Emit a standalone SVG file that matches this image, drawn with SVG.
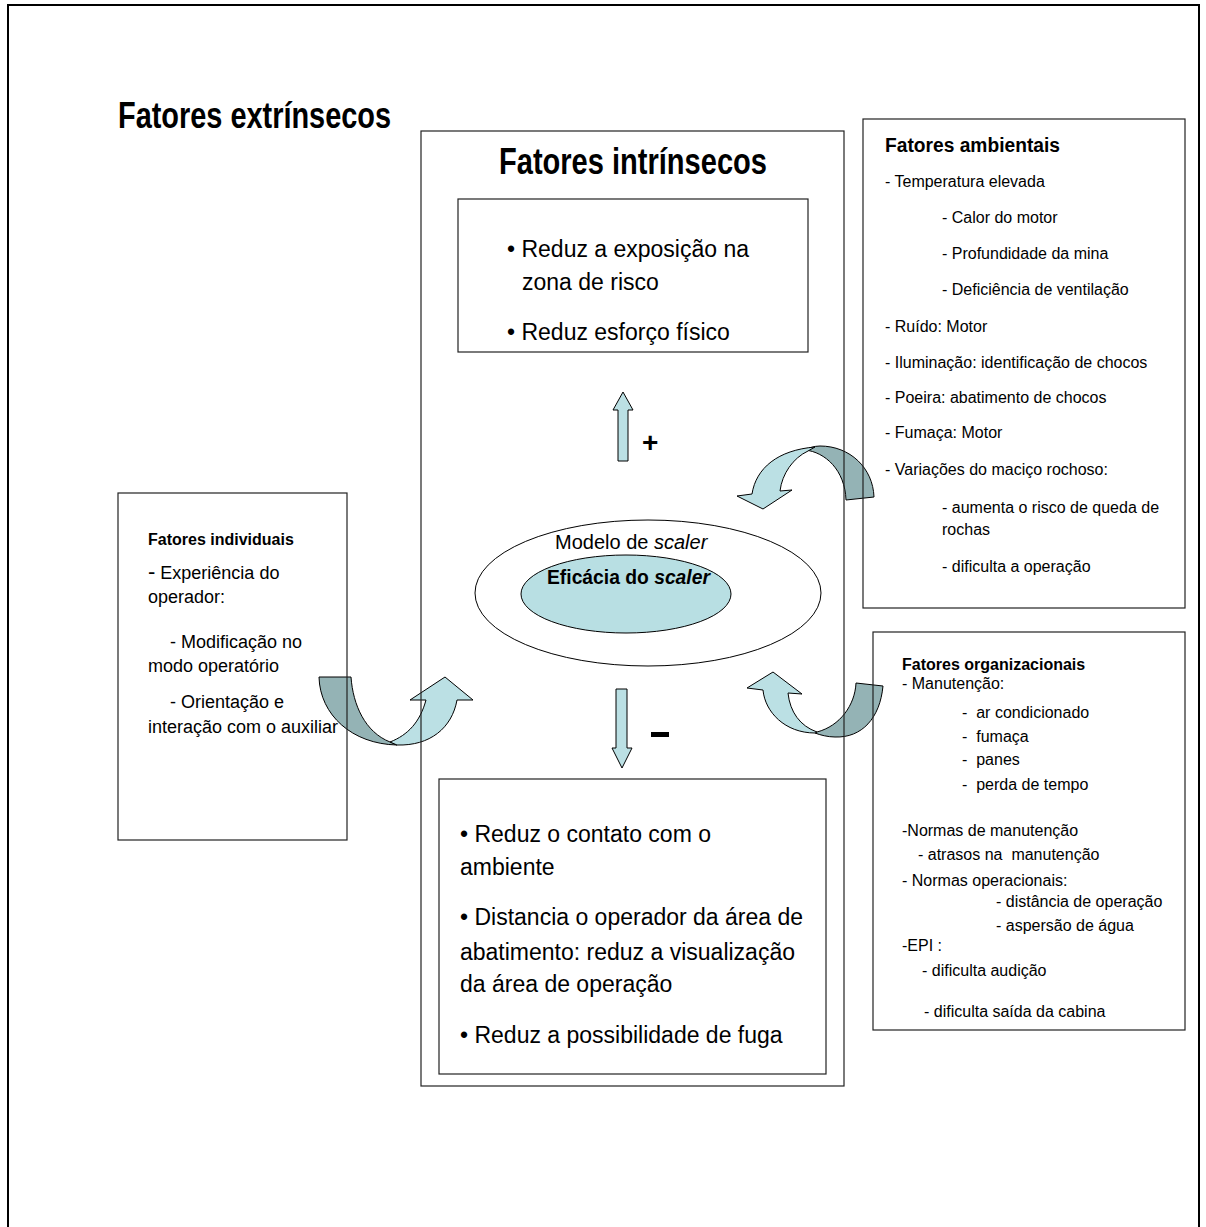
<svg xmlns="http://www.w3.org/2000/svg" width="1206" height="1227" viewBox="0 0 1206 1227">
<style>
.box{fill:none;stroke:#222;stroke-width:1.2}
.t{font-family:"Liberation Sans",Arial,sans-serif;fill:#000}
.b{font-weight:bold}
.h1{font-family:"Liberation Sans",Arial,sans-serif;font-weight:bold;font-size:37px}
.s16{font-size:16px}
.s18{font-size:18px}
.s23{font-size:23px}
.dark{fill:#94b3b5;stroke:#000;stroke-width:1}
.light{fill:#bbe0e4;stroke:#000;stroke-width:1}
</style>
<rect x="0" y="0" width="1206" height="1227" fill="#fff"/>
<rect x="8" y="5" width="1191" height="1240" fill="none" stroke="#000" stroke-width="2"/>
<text class="h1" x="118" y="128" textLength="273" lengthAdjust="spacingAndGlyphs">Fatores extrínsecos</text>

<g id="connectors">
  <!-- left curved arrow -->
  <path class="dark" d="M319,677 L351,677 C353,705 365,732 390,742 L397,745 C352,744 320,715 319,677 Z"/>
  <path class="light" d="M390,742 C408,735 420,722 426,700 L410,700 L445,677 L473,700 L457,700 C452,728 430,746 397,745 Z"/>
  <!-- top right curved arrow -->
  <path class="dark" d="M846,500 L874,497 C873,468 850,446 820,446 C814,446 809,448 805,450 C825,452 845,470 846,500 Z"/>
  <path class="light" d="M808,451 C793,458 782,474 780,491 L792,490 L763,509 L737,496 L752,494 C756,468 778,450 815,447 Z"/>
  <!-- bottom right curved arrow -->
  <path class="dark" d="M817,732 C840,726 855,705 856,683 L883,686 C880,718 862,738 835,737 C828,737 820,735 815,733 Z"/>
  <path class="light" d="M747,688 L773,672 L802,694 L788,693 C790,712 800,726 817,732 L815,733 C785,733 765,712 763,690 Z"/>
  <!-- up arrow + -->
  <polygon class="light" points="618,461 618,410 613,410 623,392 633,410 628,410 628,461"/>
  <text class="t b" x="642" y="452" font-size="28">+</text>
  <!-- down arrow - -->
  <polygon class="light" points="616,689 627,689 627,748 632,748 622,768 612,748 616,748"/>
  <rect x="651" y="732" width="18" height="5" fill="#000"/>
</g>

<g id="node-intrinsecos">
  <rect class="box" x="421" y="131" width="423" height="955"/>
  <text class="h1" x="499" y="174" textLength="268" lengthAdjust="spacingAndGlyphs">Fatores intrínsecos</text>
</g>

<g id="node-positivo">
  <rect class="box" x="458" y="199" width="350" height="153"/>
  <text class="t s23" x="507" y="257">• Reduz a exposição na</text>
  <text class="t s23" x="522" y="290">zona de risco</text>
  <text class="t s23" x="507" y="340">• Reduz esforço físico</text>
</g>

<g id="node-modelo">
  <ellipse cx="648" cy="593" rx="173" ry="73" fill="#fff" stroke="#000" stroke-width="1"/>
  <text class="t" x="555" y="549" font-size="20">Modelo de <tspan font-style="italic">scaler</tspan></text>
  <ellipse cx="626" cy="594" rx="105" ry="39" fill="#b8dfe3" stroke="#000" stroke-width="1"/>
  <text class="t b" x="547" y="584" font-size="19.3">Eficácia do <tspan font-style="italic">scaler</tspan></text>
</g>

<g id="node-negativo">
  <rect class="box" x="439" y="779" width="387" height="295"/>
  <text class="t s23" x="460" y="842">• Reduz o contato com o</text>
  <text class="t s23" x="460" y="875">ambiente</text>
  <text class="t s23" x="460" y="925">• Distancia o operador da área de</text>
  <text class="t s23" x="460" y="960">abatimento: reduz a visualização</text>
  <text class="t s23" x="460" y="992">da área de operação</text>
  <text class="t s23" x="460" y="1043">• Reduz a possibilidade de fuga</text>
</g>

<g id="node-individuais">
  <rect class="box" x="118" y="493" width="229" height="347"/>
  <text class="t b s16" x="148" y="545">Fatores individuais</text>
  <text class="t s18" x="148" y="579"><tspan font-size="22">-</tspan> Experiência do</text>
  <text class="t s18" x="148" y="603">operador:</text>
  <text class="t s18" x="170" y="648">- Modificação no</text>
  <text class="t s18" x="148" y="672">modo operatório</text>
  <text class="t s18" x="170" y="708">- Orientação e</text>
  <text class="t s18" x="148" y="733">interação com o auxiliar</text>
</g>

<g id="node-ambientais">
  <rect class="box" x="863" y="119" width="322" height="489"/>
  <text class="t b" x="885" y="152" font-size="20" textLength="175" lengthAdjust="spacingAndGlyphs">Fatores ambientais</text>
  <text class="t s16" x="885" y="187">- Temperatura elevada</text>
  <text class="t s16" x="942" y="223">- Calor do motor</text>
  <text class="t s16" x="942" y="259">- Profundidade da mina</text>
  <text class="t s16" x="942" y="295">- Deficiência de ventilação</text>
  <text class="t s16" x="885" y="332">- Ruído: Motor</text>
  <text class="t s16" x="885" y="368">- Iluminação: identificação de chocos</text>
  <text class="t s16" x="885" y="403">- Poeira: abatimento de chocos</text>
  <text class="t s16" x="885" y="438">- Fumaça: Motor</text>
  <text class="t s16" x="885" y="475">- Variações do maciço rochoso:</text>
  <text class="t s16" x="942" y="513">- aumenta o risco de queda de</text>
  <text class="t s16" x="942" y="535">rochas</text>
  <text class="t s16" x="942" y="572">- dificulta a operação</text>
</g>

<g id="node-organizacionais">
  <rect class="box" x="873" y="632" width="312" height="398"/>
  <text class="t b s16" x="902" y="670">Fatores organizacionais</text>
  <text class="t s16" x="902" y="689">- Manutenção:</text>
  <text class="t s16" x="962" y="718" xml:space="preserve">-  ar condicionado</text>
  <text class="t s16" x="962" y="742" xml:space="preserve">-  fumaça</text>
  <text class="t s16" x="962" y="765" xml:space="preserve">-  panes</text>
  <text class="t s16" x="962" y="790" xml:space="preserve">-  perda de tempo</text>
  <text class="t s16" x="902" y="836">-Normas de manutenção</text>
  <text class="t s16" x="918" y="860" xml:space="preserve">- atrasos na  manutenção</text>
  <text class="t s16" x="902" y="886">- Normas operacionais:</text>
  <text class="t s16" x="996" y="907">- distância de operação</text>
  <text class="t s16" x="996" y="931">- aspersão de água</text>
  <text class="t s16" x="902" y="951">-EPI :</text>
  <text class="t s16" x="922" y="976">- dificulta audição</text>
  <text class="t s16" x="924" y="1017">- dificulta saída da cabina</text>
</g>
</svg>
